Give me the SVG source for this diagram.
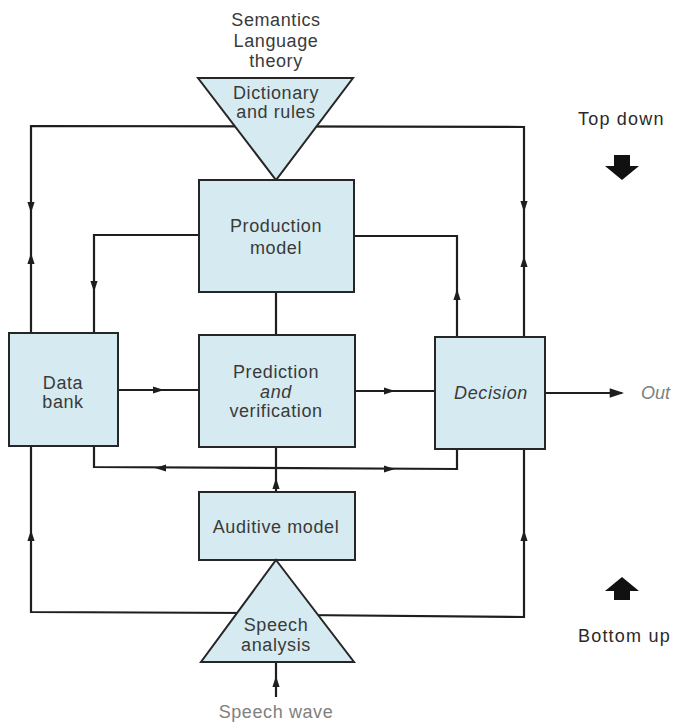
<svg xmlns="http://www.w3.org/2000/svg" xmlns:xlink="http://www.w3.org/1999/xlink" width="677" height="722" viewBox="0 0 677 722">
  <style>
    .node { fill: #d5ebf1; stroke: #262626; stroke-width: 2; stroke-linejoin: miter; }
    .wire { fill: none; stroke: #1e1e1e; stroke-width: 2.2; }
    .lbl { font-family: "Liberation Sans", Arial, sans-serif; font-size: 18px; fill: #3a3a3a; text-anchor: middle; letter-spacing: 0.6px; }
    .it { font-style: italic; }
    .side { font-family: "Liberation Sans", Arial, sans-serif; font-size: 18px; fill: #2a2a2a; letter-spacing: 1.2px; }
    .grey { fill: #808080; }
    .head { fill: #1e1e1e; }
    .big { fill: #111; }
  </style>
  <defs>
    <!-- small in-line arrowhead, tip at origin, pointing along +x -->
    <path id="ah" d="M0,0 L-11,-3.6 L-11,3.6 Z"/>
  </defs>

  <!-- connectors -->
  <g id="connectors">
    <!-- outer top-down loop from dictionary -->
    <polyline class="wire" points="31,333 31,126 524,127 524,337"/>
    <!-- inner loop from production model -->
    <polyline class="wire" points="94,333 94,235 199,235"/>
    <polyline class="wire" points="354,236 457,236 457,337"/>
    <!-- production model to prediction -->
    <line class="wire" x1="276" y1="292" x2="276" y2="335"/>
    <!-- horizontal flow -->
    <line class="wire" x1="118" y1="390" x2="199" y2="390"/>
    <line class="wire" x1="355" y1="391" x2="435" y2="391"/>
    <line class="wire" x1="545" y1="393" x2="622" y2="393"/>
    <!-- lower bus -->
    <polyline class="wire" points="94,446 94,467 457,469 457,449"/>
    <!-- auditive model to prediction -->
    <line class="wire" x1="276" y1="447" x2="276" y2="492"/>
    <!-- outer bottom-up loop from speech analysis -->
    <polyline class="wire" points="31,446 31,612 250,613"/>
    <polyline class="wire" points="300,615 524,617 524,449"/>
    <!-- speech wave input -->
    <line class="wire" x1="276" y1="662" x2="276" y2="697"/>

    <!-- arrowheads -->
    <use xlink:href="#ah" class="head" transform="translate(31,213) rotate(90)"/>
    <use xlink:href="#ah" class="head" transform="translate(31,253) rotate(-90)"/>
    <use xlink:href="#ah" class="head" transform="translate(94,292) rotate(90)"/>
    <use xlink:href="#ah" class="head" transform="translate(457,289) rotate(-90)"/>
    <use xlink:href="#ah" class="head" transform="translate(524,212) rotate(90)"/>
    <use xlink:href="#ah" class="head" transform="translate(524,256) rotate(-90)"/>
    <use xlink:href="#ah" class="head" transform="translate(164,390)"/>
    <use xlink:href="#ah" class="head" transform="translate(395,391)"/>
    <use xlink:href="#ah" class="head" transform="translate(624,393) scale(1.3)"/>
    <use xlink:href="#ah" class="head" transform="translate(155,468) rotate(180)"/>
    <use xlink:href="#ah" class="head" transform="translate(395,469)"/>
    <use xlink:href="#ah" class="head" transform="translate(276,478) rotate(-90)"/>
    <use xlink:href="#ah" class="head" transform="translate(31,530) rotate(-90)"/>
    <use xlink:href="#ah" class="head" transform="translate(524,530) rotate(-90)"/>
    <use xlink:href="#ah" class="head" transform="translate(276,676) rotate(-90)"/>
  </g>

  <!-- labels above the dictionary -->
  <g id="sources">
    <text class="lbl" x="276" y="26">Semantics</text>
    <text class="lbl" x="276" y="47">Language</text>
    <text class="lbl" x="276" y="67">theory</text>
  </g>

  <g id="dictionary">
    <polygon class="node" points="198,78 353,78 276,180"/>
    <text class="lbl" x="276" y="99">Dictionary</text>
    <text class="lbl" x="276" y="118">and rules</text>
  </g>

  <g id="production">
    <rect class="node" x="199" y="180" width="155" height="112"/>
    <text class="lbl" x="276" y="232">Production</text>
    <text class="lbl" x="276" y="254">model</text>
  </g>

  <g id="databank">
    <rect class="node" x="9" y="333" width="109" height="113"/>
    <text class="lbl" x="63" y="389">Data</text>
    <text class="lbl" x="63" y="408">bank</text>
  </g>

  <g id="prediction">
    <rect class="node" x="199" y="335" width="156" height="112"/>
    <text class="lbl" x="276" y="378">Prediction</text>
    <text class="lbl it" x="276" y="398">and</text>
    <text class="lbl" x="276" y="417">verification</text>
  </g>

  <g id="decision">
    <rect class="node" x="435" y="337" width="110" height="112"/>
    <text class="lbl it" x="491" y="399">Decision</text>
  </g>

  <g id="output">
    <text class="lbl it grey" x="641" y="399" style="text-anchor:start;letter-spacing:0">Out</text>
  </g>

  <g id="auditive">
    <rect class="node" x="199" y="492" width="156" height="68"/>
    <text class="lbl" x="276" y="533">Auditive model</text>
  </g>

  <g id="analysis">
    <polygon class="node" points="276,560 354,662 201,662"/>
    <text class="lbl" x="276" y="631">Speech</text>
    <text class="lbl" x="276" y="651">analysis</text>
  </g>

  <g id="input">
    <text class="lbl grey" x="276" y="718">Speech wave</text>
  </g>

  <!-- direction legend -->
  <g id="topdown">
    <text class="side" x="578" y="125">Top down</text>
    <polygon class="big" points="614,155 630,155 630,166 639,166 622,180 605,166 614,166"/>
  </g>
  <g id="bottomup">
    <polygon class="big" points="622,577 639,591 630,591 630,600 614,600 614,591 605,591"/>
    <text class="side" x="578" y="642">Bottom up</text>
  </g>
</svg>
